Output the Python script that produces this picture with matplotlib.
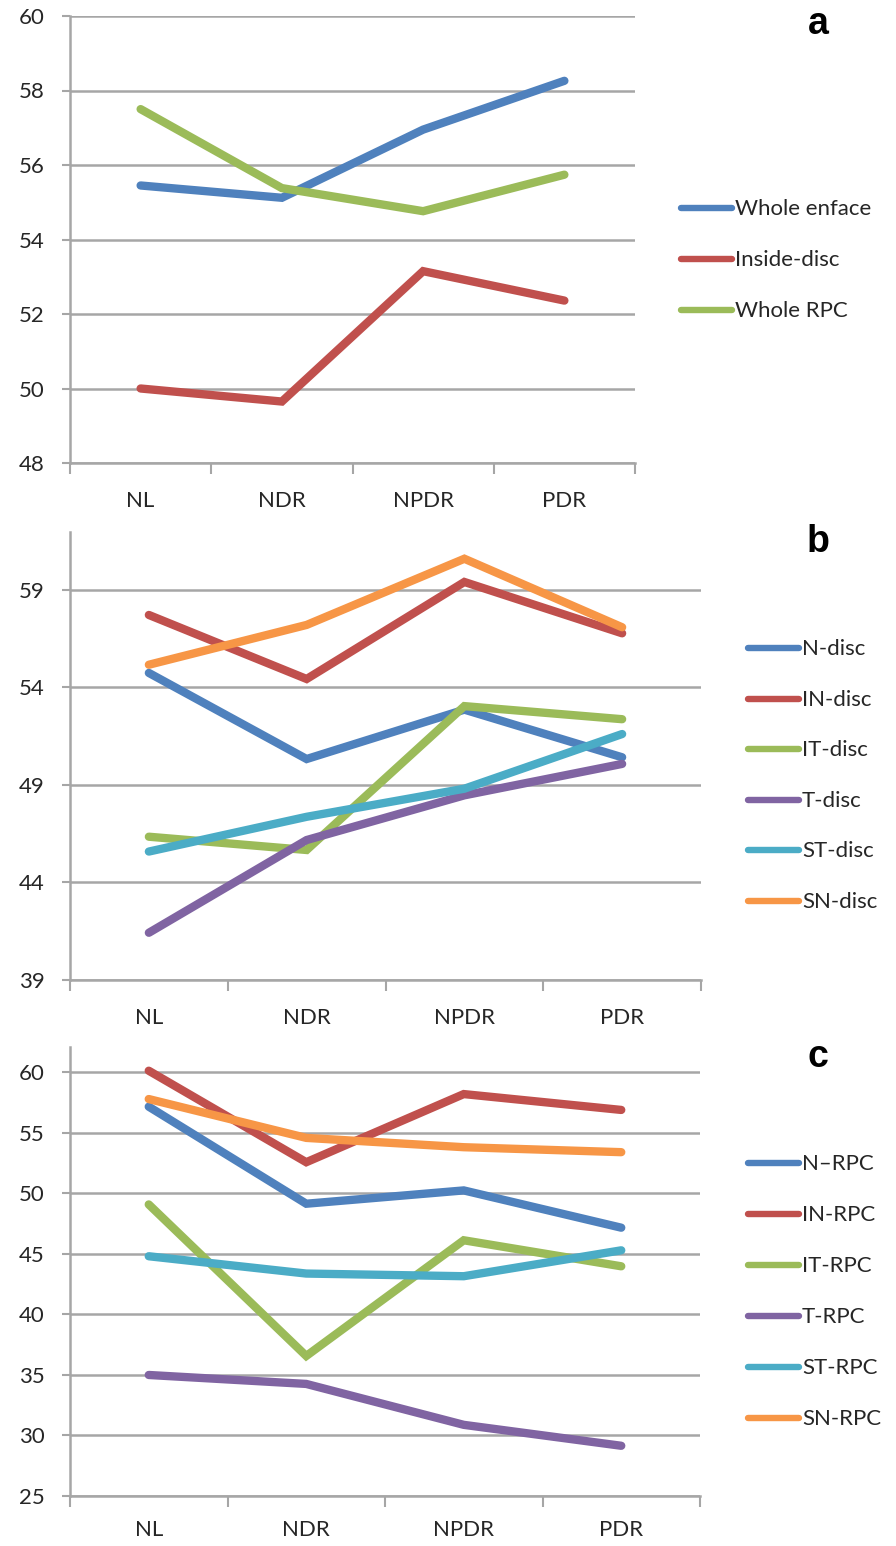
import matplotlib
matplotlib.use("Agg")
import matplotlib.pyplot as plt
import numpy as np

# 그룹
groups = ["NL", "NDR", "NPDR", "PDR"]

# a 패널
whole_enface = [55.45, 55.12, 56.95, 58.26]
inside_disc = [50.0, 49.65, 53.15, 52.36]
whole_rpc = [57.5, 55.38, 54.76, 55.74]

# b 패널
n_disc = [54.73, 50.32, 52.85, 50.41]
in_disc = [57.70, 54.42, 59.39, 56.76]
it_disc = [46.34, 45.66, 53.03, 52.36]
t_disc = [41.42, 46.17, 48.46, 50.07]
st_disc = [45.58, 47.36, 48.80, 51.60]
sn_disc = [55.15, 57.19, 60.58, 57.07]

# c 패널
n_rpc = [57.17, 49.15, 50.25, 47.17]
in_rpc = [60.14, 52.58, 58.21, 56.90]
it_rpc = [49.09, 36.57, 46.13, 43.98]
t_rpc = [35.00, 34.26, 30.88, 29.15]
st_rpc = [44.81, 43.38, 43.16, 45.30]
sn_rpc = [57.80, 54.59, 53.82, 53.41]

colors = ["#4F81BD", "#C0504D", "#9BBB59", "#8064A2", "#4BACC6", "#F79646"]
grid_c = "#A6A6A6"
FONT = ["Lato", "Liberation Sans", "DejaVu Sans"]
TXT_C = "#262626"

W, H = 896, 1546
fig = plt.figure(figsize=(W / 100, H / 100), dpi=100)


def px_axes(left, top, right, bottom):
    return fig.add_axes([left / W, 1 - bottom / H, (right - left) / W, (bottom - top) / H])


def panel(box, series, names, col_idx, yticks, ylim, letter, letter_xy, leg_x, leg_y0, leg_dy, xpad):
    ax = px_axes(*box)
    x = np.arange(len(groups))
    for vals, ci in zip(series, col_idx):
        ax.plot(x, vals, color=colors[ci], lw=6, solid_capstyle="round", solid_joinstyle="miter", zorder=3)
    ax.set_xlim(-0.5, 3.5)
    ax.set_ylim(*ylim)
    ax.set_yticks(yticks)
    ax.set_yticklabels([str(t) for t in yticks], family=FONT, fontsize=16, color=TXT_C)
    ax.set_xticks(x)
    ax.set_xticklabels(groups, family=FONT, fontsize=16, color=TXT_C)
    ax.set_xticks(np.arange(-0.5, 4.0, 1.0), minor=True)
    ax.tick_params(axis="x", which="major", length=0, pad=xpad)
    ax.tick_params(axis="x", which="minor", length=8, width=1.5, color=grid_c, direction="out")
    ax.tick_params(axis="y", length=6, width=1.5, color=grid_c, pad=12)
    for t in yticks:
        ax.axhline(t, color=grid_c, lw=1.8, zorder=1)
    for s in ["top", "right"]:
        ax.spines[s].set_visible(False)
    for s in ["left", "bottom"]:
        ax.spines[s].set_color(grid_c)
        ax.spines[s].set_linewidth(1.8)
    ax.set_facecolor("none")

    # 범례 (엑셀 스타일)
    for i, (nm, ci) in enumerate(zip(names, col_idx)):
        yy = leg_y0 + i * leg_dy
        fig.add_artist(plt.Line2D([(leg_x + 3) / W, (leg_x + 54) / W], [1 - yy / H, 1 - yy / H],
                                  color=colors[ci], lw=4.6, solid_capstyle="round"))
        fig.text((leg_x + 57) / W, 1 - (yy + 1) / H, nm, family=FONT, fontsize=16,
                 color=TXT_C, va="center", ha="left")
    fig.text(letter_xy[0] / W, 1 - letter_xy[1] / H, letter, fontsize=27, fontweight="bold",
             family=["Liberation Sans", "DejaVu Sans"], ha="center", va="center")
    return ax


panel((70, 16, 635, 463), [whole_enface, inside_disc, whole_rpc],
      ["Whole enface", "Inside-disc", "Whole RPC"], [0, 1, 2],
      [48, 50, 52, 54, 56, 58, 60], (48, 60), "a", (818, 24), 678, 208, 51, 20)

panel((70, 532, 701, 980), [n_disc, in_disc, it_disc, t_disc, st_disc, sn_disc],
      ["N-disc", "IN-disc", "IT-disc", "T-disc", "ST-disc", "SN-disc"], [0, 1, 2, 3, 4, 5],
      [39, 44, 49, 54, 59], (39, 61.95), "b", (818, 542), 745, 648, 50.6, 20)

panel((70, 1047, 700, 1496), [n_rpc, in_rpc, it_rpc, t_rpc, st_rpc, sn_rpc],
      ["N\u2013RPC", "IN-RPC", "IT-RPC", "T-RPC", "ST-RPC", "SN-RPC"], [0, 1, 2, 3, 4, 5],
      [25, 30, 35, 40, 45, 50, 55, 60], (25, 62.1), "c", (818, 1057), 745, 1163, 51, 17)

fig.savefig("out.png", dpi=100, facecolor="white")
